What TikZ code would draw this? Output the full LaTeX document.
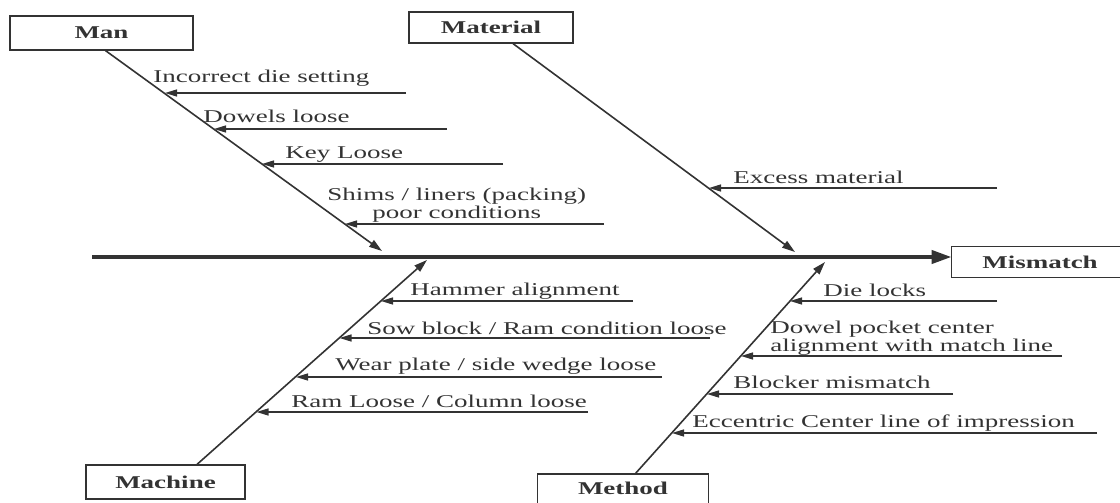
\documentclass[tikz,border=0pt]{standalone}
\usepackage{fontspec}
\setmainfont{Liberation Serif}[FakeStretch=1.5]
\usetikzlibrary{arrows.meta}

\definecolor{ink}{HTML}{333333}
\newcommand{\causefont}{\fontsize{9}{9}\selectfont}

\begin{document}
\begin{tikzpicture}[x=0.5pt,y=-0.5pt,font=\causefont,
   catbox/.style={draw=ink,line width=0.6pt,inner sep=0pt,text=ink,font=\causefont\bfseries},
   cuttext/.style={inner sep=0pt,text=ink,font=\causefont\bfseries},
   cutedge/.style={draw=ink,line width=0.6pt},
   bone/.style={draw=ink,line width=0.8pt,-{Triangle[length=6.5pt,width=4pt]}},
   spine/.style={draw=ink,line width=2pt,-{Triangle[length=10pt,width=6.5pt]}},
   cause/.style={draw=ink,line width=0.65pt,-{Triangle[length=6pt,width=3.5pt]}},
   note/.style={inner sep=0pt,anchor=base west,text=ink}]
   \useasboundingbox (0,0) rectangle (1120,503);
   \clip (0,0) rectangle (1120,503);

   % category boxes and effect
   \node[catbox,minimum width=91.5pt,minimum height=17pt] (man) at (101.5,33) {Man};
   \node[catbox,minimum width=82pt,minimum height=15.5pt] (material) at (491,27.5) {Material};
   \node[catbox,minimum width=79.5pt,minimum height=17pt] (machine) at (165.5,482) {Machine};
   \node[cuttext,minimum width=85pt,text height=10pt,text depth=10pt,anchor=north] (method) at (623,474) {Method};
   \node[cuttext,minimum width=88pt,minimum height=15pt] (mismatch) at (1040,262) {Mismatch};
   % boxes running off the page
   \draw[cutedge] (method.south west) -- (method.north west) -- (method.north east) -- (method.south east);
   \draw[cutedge] (mismatch.north east) -- (mismatch.north west) -- (mismatch.south west) -- (mismatch.south east);

   % bones
   \coordinate (tail) at (92,257);
   \coordinate (manhead) at (382,251);
   \coordinate (mathead) at (795,252);
   \coordinate (machead) at (427,260);
   \coordinate (methead) at (825,262);
   \draw[spine] (tail) -- (tail -| mismatch.west);
   \draw[bone] ([xshift=2pt]man.south) -- (manhead);
   \draw[bone] ([xshift=11pt]material.south) -- (mathead);
   \draw[bone] ([xshift=15.75pt]machine.north) -- (machead);
   \draw[bone] ([xshift=6pt]method.north) -- (methead);

   % causes
   \node[note] (incorrect) at (153,83) {Incorrect die setting};
   \node[note] (dowels) at (203,122) {Dowels loose};
   \node[note] (key) at (285,158) {Key Loose};
   \node[note,align=center] (shims) at (327,218) {Shims / liners (packing)\\poor conditions};
   \node[note] (excess) at (733,183) {Excess material};
   \node[note] (hammer) at (410,295) {Hammer alignment};
   \node[note] (sow) at (367,334) {Sow block / Ram condition loose};
   \node[note] (wear) at (335,370) {Wear plate / side wedge loose};
   \node[note] (ram) at (291,407) {Ram Loose / Column loose};
   \node[note] (dielocks) at (823,296) {Die locks};
   \node[note,align=left] (dowelpocket) at (770,351) {Dowel pocket center\\alignment with match line};
   \node[note] (blocker) at (733,388) {Blocker mismatch};
   \node[note] (eccentric) at (692,427) {Eccentric Center line of impression};

   \coordinate (incorrect-e) at (406,93);  \coordinate (incorrect-t) at (165,93);
   \coordinate (dowels-e) at (447,129);    \coordinate (dowels-t) at (214,129);
   \coordinate (key-e) at (503,164);       \coordinate (key-t) at (262,164);
   \coordinate (shims-e) at (604,224);     \coordinate (shims-t) at (345,224);
   \coordinate (excess-e) at (997,188);    \coordinate (excess-t) at (709,188);
   \coordinate (hammer-e) at (633,301);    \coordinate (hammer-t) at (381,301);
   \coordinate (sow-e) at (710,338);       \coordinate (sow-t) at (339.5,338);
   \coordinate (wear-e) at (662,377);      \coordinate (wear-t) at (296,377);
   \coordinate (ram-e) at (588,412);       \coordinate (ram-t) at (256.5,412);
   \coordinate (dielocks-e) at (997,301);  \coordinate (dielocks-t) at (790,301);
   \coordinate (dowelpocket-e) at (1062,356); \coordinate (dowelpocket-t) at (741,356);
   \coordinate (blocker-e) at (953,394);   \coordinate (blocker-t) at (707,394);
   \coordinate (eccentric-e) at (1097,433); \coordinate (eccentric-t) at (672,433);

   \path[every edge/.style=cause]
    (incorrect-e) edge (incorrect-t)
    (dowels-e) edge (dowels-t)
    (key-e) edge (key-t)
    (shims-e) edge (shims-t)
    (excess-e) edge (excess-t)
    (hammer-e) edge (hammer-t)
    (sow-e) edge (sow-t)
    (wear-e) edge (wear-t)
    (ram-e) edge (ram-t)
    (dielocks-e) edge (dielocks-t)
    (dowelpocket-e) edge (dowelpocket-t)
    (blocker-e) edge (blocker-t)
    (eccentric-e) edge (eccentric-t);
\end{tikzpicture}
\end{document}
